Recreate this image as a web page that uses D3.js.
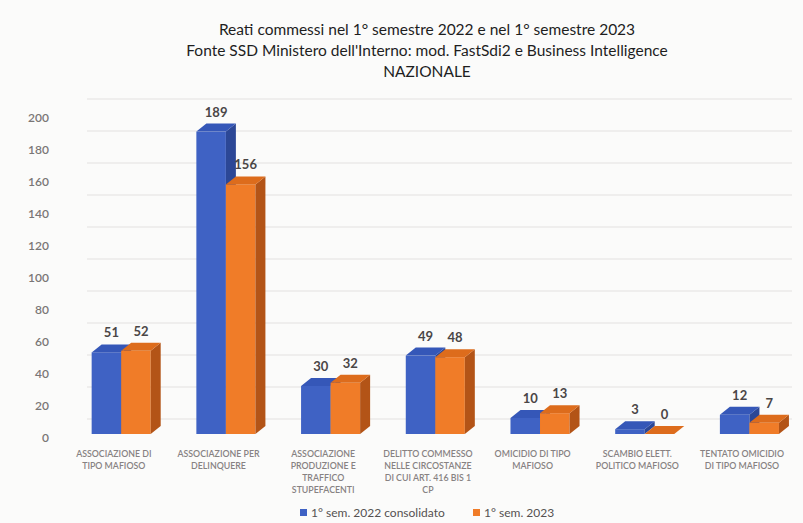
<!DOCTYPE html>
<html>
<head>
<meta charset="utf-8">
<script src="https://cdn.jsdelivr.net/npm/d3@7"></script>
<style>
  html, body { margin: 0; padding: 0; background: #fbfbfa; }
  svg { display: block; }
  text { font-family: Lato, "Open Sans", sans-serif; }
</style>
</head>
<body>
<svg id="chart" width="803" height="523"></svg>
<script>
// ---- data ----
const titleLines = [
  "Reati commessi nel 1° semestre 2022 e nel 1° semestre 2023",
  "Fonte SSD Ministero dell'Interno: mod. FastSdi2 e Business Intelligence",
  "NAZIONALE"
];
const categories = [
  "ASSOCIAZIONE DI TIPO MAFIOSO",
  "ASSOCIAZIONE PER DELINQUERE",
  "ASSOCIAZIONE PRODUZIONE E TRAFFICO STUPEFACENTI",
  "DELITTO COMMESSO NELLE CIRCOSTANZE DI CUI ART. 416 BIS 1 CP",
  "OMICIDIO DI TIPO MAFIOSO",
  "SCAMBIO ELETT. POLITICO MAFIOSO",
  "TENTATO OMICIDIO DI TIPO MAFIOSO"
];
const categoryLabelLines = [
  ["ASSOCIAZIONE DI", "TIPO MAFIOSO"],
  ["ASSOCIAZIONE PER", "DELINQUERE"],
  ["ASSOCIAZIONE", "PRODUZIONE E", "TRAFFICO", "STUPEFACENTI"],
  ["DELITTO COMMESSO", "NELLE CIRCOSTANZE", "DI CUI ART. 416 BIS 1", "CP"],
  ["OMICIDIO DI TIPO", "MAFIOSO"],
  ["SCAMBIO ELETT.", "POLITICO MAFIOSO"],
  ["TENTATO OMICIDIO", "DI TIPO MAFIOSO"]
];
const seriesNames = ["1° sem. 2022 consolidato", "1° sem. 2023"];
const values2022 = [51, 189, 30, 49, 10, 3, 12];
const values2023 = [52, 156, 32, 48, 13, 0, 7];
const yTicks = [0, 20, 40, 60, 80, 100, 120, 140, 160, 180, 200];

// ---- styles ----
const colors = [
  { front: "#3f62c4", top: "#3557b8", side: "#2c4796" },
  { front: "#f07c28", top: "#dd6c1c", side: "#b35417" }
];
const DX = 10, DY = 8, WALL = 15;

const svg = d3.select("#chart");

// title
svg.append("g").selectAll("text").data(titleLines).join("text")
  .attr("x", 427).attr("y", (d, i) => 35 + i * 21)
  .attr("text-anchor", "middle")
  .attr("font-size", 15.5).attr("fill", "#1e1e1e")
  .text(d => d);

// scales
const y = d3.scaleLinear().domain([0, 200]).range([434, 114]);
const x = d3.scaleBand().domain(categories).range([46, 824.6]).paddingInner(0.436).paddingOuter(0.436);
const xs = d3.scaleBand().domain([0, 1]).range([0, x.bandwidth()]);

// gridlines on back wall
svg.append("g").selectAll("line").data(yTicks).join("line")
  .attr("x1", 87).attr("x2", 792)
  .attr("y1", d => y(d) - WALL).attr("y2", d => y(d) - WALL)
  .attr("stroke", "#e4e2e0").attr("stroke-width", 1.2);

// y axis labels
const yAxis = d3.axisLeft(y).tickValues(yTicks).tickSize(0).tickPadding(0);
const ya = svg.append("g").attr("transform", "translate(49,4)").call(yAxis);
ya.select(".domain").remove();
ya.selectAll("text").attr("font-size", 12).attr("fill", "#7a7676")
  .attr("font-family", "Lato, sans-serif").attr("font-weight", 600);

// bars
const series = [values2022, values2023];
const bars = svg.append("g");
categories.forEach((c, ci) => {
  series.forEach((vals, si) => {
    const v = vals[ci];
    const x0 = x(c) + xs(si);
    const w = xs.bandwidth();
    const yt = y(v), yb = y(0);
    const col = colors[si];
    const g = bars.append("g");
    g.append("rect").attr("x", x0).attr("y", yt).attr("width", w).attr("height", Math.max(0, yb - yt))
      .attr("fill", col.front);
    g.append("path").attr("d", `M${x0 + w},${yt} L${x0 + w + DX},${yt - DY} L${x0 + w + DX},${yb - DY} L${x0 + w},${yb} Z`)
      .attr("fill", col.side);
    g.append("path").attr("d", `M${x0},${yt} L${x0 + DX},${yt - DY} L${x0 + w + DX},${yt - DY} L${x0 + w},${yt} Z`)
      .attr("fill", col.top);
  });
});

// value labels
const labels = svg.append("g");
categories.forEach((c, ci) => {
  series.forEach((vals, si) => {
    const v = vals[ci];
    labels.append("text")
      .attr("x", x(c) + xs(si) + xs.bandwidth() / 2 + DX / 2)
      .attr("y", y(v) - 15)
      .attr("text-anchor", "middle")
      .attr("font-size", 13).attr("font-weight", 700).attr("fill", "#4a4646")
      .text(v);
  });
});

// category labels
const cl = svg.append("g");
categories.forEach((c, ci) => {
  const t = cl.append("text")
    .attr("x", x(c) + x.bandwidth() * 0.375)
    .attr("y", 457)
    .attr("text-anchor", "middle")
    .attr("font-size", 8.8).attr("font-weight", 600).attr("fill", "#878282");
  categoryLabelLines[ci].forEach((line, li) => {
    t.append("tspan").attr("x", x(c) + x.bandwidth() * 0.375).attr("dy", li === 0 ? 0 : 12).text(line);
  });
});

// legend
const legendX = [300, 473];
const lg = svg.append("g");
seriesNames.forEach((n, i) => {
  lg.append("rect").attr("x", legendX[i]).attr("y", 509).attr("width", 7).attr("height", 7).attr("fill", colors[i].front);
  lg.append("text").attr("x", legendX[i] + 11).attr("y", 516.5)
    .attr("font-size", 12).attr("fill", "#555151").text(n);
});
</script>
</body>
</html>
